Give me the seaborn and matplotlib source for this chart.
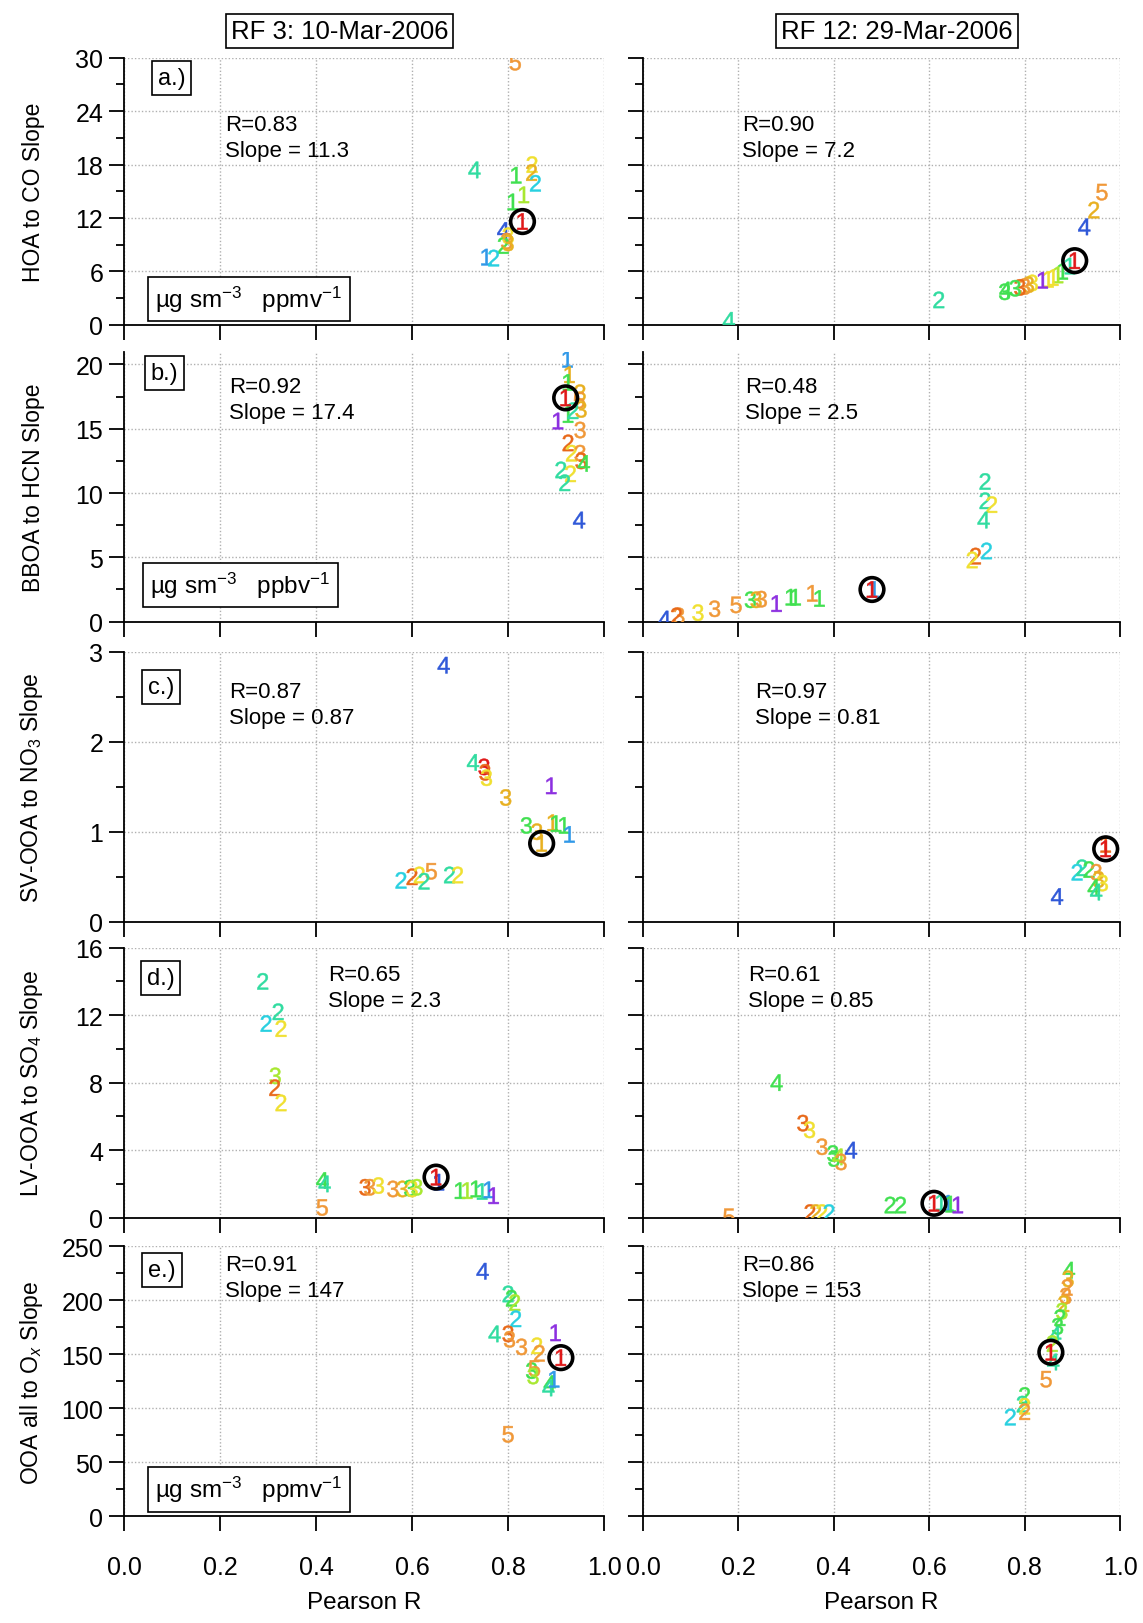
import numpy as np
import pandas as pd
import matplotlib
matplotlib.use('Agg')
import matplotlib.pyplot as plt
import seaborn as sns

sns.set_theme(style='ticks')
plt.rcParams['font.family'] = ['Liberation Sans', 'DejaVu Sans']
plt.rcParams['mathtext.fontset'] = 'custom'
plt.rcParams['mathtext.rm'] = 'Liberation Sans'
plt.rcParams['mathtext.it'] = 'Liberation Sans:italic'
plt.rcParams['mathtext.bf'] = 'Liberation Sans:bold'
for k in ['text.color', 'axes.labelcolor', 'xtick.color', 'ytick.color', 'axes.edgecolor']:
    plt.rcParams[k] = 'black'

# colour keys used for the factor digits
pal = {'pu': '#8c2fe0', 'bl': '#2f58d8', 'lb': '#2f98e8', 'cy': '#28d0e0',
       'tl': '#30dca0', 'gr': '#40e050', 'yg': '#a8e830', 'ye': '#f0e030',
       'go': '#e8b020', 'or': '#f09838', 'do': '#e86818', 're': '#e01818'}

# each point: (Pearson R, slope, number of factors, colour key)
hoa_rf3 = [(0.815, 29.5, '5', 'or'), (0.73, 17.4, '4', 'tl'), (0.817, 16.8, '1', 'gr'),
           (0.85, 18.0, '2', 'ye'), (0.849, 17.1, '2', 'go'), (0.857, 15.9, '2', 'cy'),
           (0.81, 13.8, '1', 'gr'), (0.833, 14.6, '1', 'yg'), (0.79, 10.6, '4', 'bl'),
           (0.80, 10.0, '3', 'ye'), (0.797, 9.4, '3', 'or'), (0.79, 8.9, '2', 'gr'),
           (0.80, 9.2, '3', 'go'), (0.755, 7.6, '1', 'lb'), (0.77, 7.5, '2', 'cy'),
           (0.83, 11.6, '1', 're')]
hoa_rf12 = [(0.962, 14.9, '5', 'or'), (0.945, 12.9, '2', 'go'), (0.925, 11.0, '4', 'bl'),
            (0.895, 6.6, '1', 'tl'), (0.88, 6.0, '1', 'gr'), (0.87, 5.6, '1', 'yg'),
            (0.86, 5.3, '1', 'ye'), (0.85, 5.1, '1', 'ye'), (0.838, 5.0, '1', 'pu'),
            (0.816, 4.7, '3', 'ye'), (0.808, 4.5, '3', 'go'), (0.80, 4.3, '3', 'or'),
            (0.79, 4.2, '3', 'do'), (0.78, 4.1, '3', 'gr'), (0.76, 3.9, '4', 'gr'),
            (0.758, 3.7, '3', 'gr'), (0.62, 2.8, '2', 'tl'), (0.18, 0.5, '4', 'tl'),
            (0.905, 7.2, '1', 're')]
bboa_rf3 = [(0.924, 20.4, '1', 'lb'), (0.928, 19.2, '1', 'go'), (0.925, 18.6, '1', 'gr'),
            (0.95, 17.8, '3', 'go'), (0.948, 17.2, '5', 'or'), (0.952, 16.5, '3', 'go'),
            (0.925, 16.1, '1', 'gr'), (0.935, 16.4, '2', 'tl'), (0.904, 15.6, '1', 'pu'),
            (0.95, 14.9, '3', 'or'), (0.925, 13.9, '2', 'do'), (0.932, 13.1, '2', 'ye'),
            (0.95, 13.1, '3', 'or'), (0.952, 12.5, '3', 'do'), (0.958, 12.3, '4', 'gr'),
            (0.91, 11.8, '2', 'tl'), (0.93, 11.5, '2', 'ye'), (0.918, 10.8, '2', 'tl'),
            (0.948, 7.9, '4', 'bl'), (0.92, 17.4, '1', 're')]
bboa_rf12 = [(0.717, 10.9, '2', 'tl'), (0.717, 9.4, '2', 'tl'), (0.731, 9.1, '2', 'ye'),
             (0.714, 7.9, '4', 'tl'), (0.72, 5.5, '2', 'cy'), (0.697, 5.1, '2', 'do'),
             (0.69, 4.8, '2', 'ye'), (0.485, 2.5, '1', 'lb'), (0.355, 2.2, '1', 'or'),
             (0.37, 1.8, '1', 'gr'), (0.31, 1.9, '1', 'gr'), (0.32, 1.9, '1', 'gr'),
             (0.28, 1.4, '1', 'pu'), (0.225, 1.7, '3', 'gr'), (0.237, 1.7, '3', 'go'),
             (0.248, 1.75, '3', 'or'), (0.195, 1.3, '5', 'or'), (0.15, 1.0, '3', 'or'),
             (0.115, 0.7, '3', 'ye'), (0.075, 0.45, '3', 'or'), (0.07, 0.45, '2', 'do'),
             (0.045, 0.2, '4', 'bl'), (0.48, 2.5, '1', 're')]
svooa_rf3 = [(0.666, 2.85, '4', 'bl'), (0.727, 1.77, '4', 'tl'), (0.75, 1.72, '3', 're'),
             (0.752, 1.66, '3', 'do'), (0.755, 1.6, '3', 'ye'), (0.795, 1.38, '3', 'go'),
             (0.89, 1.51, '1', 'pu'), (0.838, 1.07, '3', 'gr'), (0.86, 1.0, '3', 'go'),
             (0.893, 1.1, '1', 'go'), (0.90, 1.09, '1', 'gr'), (0.917, 1.07, '1', 'gr'),
             (0.928, 0.97, '1', 'lb'), (0.577, 0.46, '2', 'cy'), (0.60, 0.5, '2', 'do'),
             (0.615, 0.52, '2', 'ye'), (0.64, 0.56, '5', 'or'), (0.625, 0.45, '2', 'tl'),
             (0.678, 0.52, '2', 'tl'), (0.695, 0.52, '2', 'ye'), (0.87, 0.87, '1', 'go')]
svooa_rf12 = [(0.91, 0.55, '2', 'cy'), (0.92, 0.6, '2', 'tl'), (0.935, 0.58, '2', 'gr'),
              (0.95, 0.55, '3', 'or'), (0.955, 0.47, '3', 'go'), (0.963, 0.43, '3', 'ye'),
              (0.945, 0.38, '4', 'gr'), (0.95, 0.33, '4', 'tl'), (0.868, 0.28, '4', 'bl'),
              (0.97, 0.86, '1', 'do'), (0.97, 0.81, '1', 're')]
lvooa_rf3 = [(0.289, 14.0, '2', 'tl'), (0.296, 11.5, '2', 'cy'), (0.321, 12.2, '2', 'tl'),
             (0.327, 11.2, '2', 'ye'), (0.315, 8.4, '3', 'yg'), (0.314, 7.7, '2', 'do'),
             (0.327, 6.8, '2', 'ye'), (0.413, 2.2, '4', 'gr'), (0.418, 2.0, '4', 'tl'),
             (0.413, 0.6, '5', 'or'), (0.502, 1.8, '3', 'do'), (0.512, 1.8, '3', 'or'),
             (0.53, 1.9, '3', 'ye'), (0.56, 1.7, '3', 'or'), (0.58, 1.7, '3', 'go'),
             (0.595, 1.75, '3', 'gr'), (0.60, 1.7, '3', 'ye'), (0.61, 1.8, '3', 'yg'),
             (0.656, 2.1, '1', 'bl'), (0.70, 1.6, '1', 'gr'), (0.715, 1.6, '1', 'yg'),
             (0.733, 1.7, '1', 'gr'), (0.746, 1.55, '1', 'tl'), (0.76, 1.65, '1', 'lb'),
             (0.77, 1.3, '1', 'pu'), (0.65, 2.4, '1', 're')]
lvooa_rf12 = [(0.28, 8.0, '4', 'gr'), (0.335, 5.6, '3', 'do'), (0.349, 5.2, '3', 'ye'),
              (0.375, 4.2, '3', 'or'), (0.398, 3.8, '3', 'gr'), (0.40, 3.5, '3', 'gr'),
              (0.436, 4.0, '4', 'bl'), (0.41, 3.6, '4', 'yg'), (0.415, 3.3, '3', 'or'),
              (0.18, 0.05, '5', 'or'), (0.35, 0.3, '2', 'do'), (0.362, 0.3, '2', 'go'),
              (0.375, 0.3, '2', 'ye'), (0.39, 0.3, '2', 'cy'), (0.518, 0.75, '2', 'gr'),
              (0.54, 0.75, '2', 'gr'), (0.625, 0.9, '1', 'tl'), (0.64, 0.85, '1', 'lb'),
              (0.645, 0.8, '1', 'gr'), (0.66, 0.75, '1', 'pu'), (0.61, 0.85, '1', 're')]
ooa_rf3 = [(0.747, 227, '4', 'bl'), (0.80, 206, '2', 'tl'), (0.807, 202, '2', 'gr'),
           (0.814, 198, '2', 'yg'), (0.816, 183, '2', 'cy'), (0.772, 169, '4', 'tl'),
           (0.80, 169, '3', 'do'), (0.803, 164, '3', 'or'), (0.828, 157, '3', 'or'),
           (0.899, 170, '1', 'pu'), (0.86, 158, '2', 'ye'), (0.865, 151, '2', 'or'),
           (0.849, 135, '3', 'gr'), (0.855, 137, '5', 'or'), (0.852, 130, '3', 'yg'),
           (0.887, 123, '4', 'gr'), (0.884, 119, '4', 'tl'), (0.896, 127, '1', 'lb'),
           (0.80, 76, '5', 'or'), (0.91, 147, '1', 're')]
ooa_rf12 = [(0.893, 228, '4', 'gr'), (0.891, 220, '3', 'go'), (0.889, 212, '2', 'or'),
            (0.886, 204, '3', 'or'), (0.882, 197, '2', 'go'), (0.878, 190, '3', 'yg'),
            (0.874, 184, '2', 'gr'), (0.869, 176, '3', 'gr'), (0.864, 168, '4', 'tl'),
            (0.858, 160, '2', 'yg'), (0.86, 143, '4', 'tl'), (0.845, 127, '5', 'or'),
            (0.80, 112, '2', 'gr'), (0.795, 104, '2', 'tl'), (0.80, 102, '2', 'ye'),
            (0.80, 97, '2', 'or'), (0.77, 92, '2', 'cy'), (0.855, 152, '1', 're')]

# circled (chosen) solution per panel
best_rf3 = [(0.83, 11.6), (0.92, 17.4), (0.87, 0.87), (0.65, 2.4), (0.91, 147)]
best_rf12 = [(0.905, 7.2), (0.48, 2.5), (0.97, 0.81), (0.61, 0.85), (0.855, 152)]

stats_rf3 = ['R=0.83\nSlope = 11.3', 'R=0.92\nSlope = 17.4', 'R=0.87\nSlope = 0.87',
             'R=0.65\nSlope = 2.3', 'R=0.91\nSlope = 147']
stats_rf12 = ['R=0.90\nSlope = 7.2', 'R=0.48\nSlope = 2.5', 'R=0.97\nSlope = 0.81',
              'R=0.61\nSlope = 0.85', 'R=0.86\nSlope = 153']

titles = ['RF 3: 10-Mar-2006', 'RF 12: 29-Mar-2006']
ylabels = ['HOA to CO Slope', 'BBOA to HCN Slope', 'SV-OOA to NO$_3$ Slope',
           'LV-OOA to SO$_4$ Slope', 'OOA all to O$_x$ Slope']
ytop = [30, 21, 3, 16, 250]
ystep = [6, 5, 1, 4, 50]
ymax_tick = [30, 20, 3, 16, 250]
tags = ['a.)', 'b.)', 'c.)', 'd.)', 'e.)']
units = ['µg sm$^{-3}$   ppmv$^{-1}$', 'µg sm$^{-3}$   ppbv$^{-1}$', None, None,
         'µg sm$^{-3}$   ppmv$^{-1}$']
xticks = [0.0, 0.2, 0.4, 0.6, 0.8, 1.0]
xticklabels = ['0.0', '0.2', '0.4', '0.6', '0.8', '1.0']

# layout (figure fractions)
row_bottom = [0.7994, 0.6166, 0.4318, 0.2496, 0.0656]
row_h = [0.1644, 0.1663, 0.1663, 0.1663, 0.1663]
col_left = [0.1085, 0.5626]
col_w = [0.42, 0.4173]
stats_x = [[0.21, 0.218, 0.218, 0.425, 0.21], [0.208, 0.214, 0.234, 0.221, 0.208]]
stats_y = [0.79, 0.91, 0.89, 0.94, 0.972]
tag_pos = [(0.07, 0.965), (0.055, 0.962), (0.05, 0.91), (0.047, 0.928), (0.05, 0.954)]
unit_pos = [(0.065, 0.04), (0.055, 0.08), None, None, (0.065, 0.045)]

digit_marks = {d: r'$\mathrm{%s}$' % d for d in '12345'}

data = [[hoa_rf3, hoa_rf12], [bboa_rf3, bboa_rf12], [svooa_rf3, svooa_rf12],
        [lvooa_rf3, lvooa_rf12], [ooa_rf3, ooa_rf12]]
best = [best_rf3, best_rf12]
stats = [stats_rf3, stats_rf12]

fig = plt.figure(figsize=(11.43, 16.24), dpi=100)

for i in range(5):
    for j in range(2):
        ax = fig.add_axes([col_left[j], row_bottom[i], col_w[j], row_h[i]])
        df = pd.DataFrame(data[i][j], columns=['r', 'slope', 'n', 'c'])
        sns.scatterplot(data=df, x='r', y='slope', hue='c', style='n', palette=pal,
                        markers=digit_marks, s=140, linewidth=0.35, edgecolor='face',
                        legend=False, ax=ax, zorder=3)
        bx, by = best[j][i]
        sns.scatterplot(x=[bx], y=[by], ax=ax, marker='o', s=290, facecolor='none',
                        edgecolor='black', linewidth=2.6, zorder=4)

        ax.set_xlim(0, 1)
        ax.set_ylim(0, ytop[i])
        ax.set_xticks(xticks)
        ax.set_yticks(np.arange(0, ymax_tick[i] + 1e-9, ystep[i]))
        ax.set_yticks(np.arange(ystep[i] / 2, ymax_tick[i], ystep[i]), minor=True)
        ax.grid(True, which='major', color='#b0b0b0', linestyle=(0, (1, 1.5)), linewidth=1.0)
        ax.set_axisbelow(True)
        for s in ['top', 'right']:
            ax.spines[s].set_visible(False)
        for s in ['left', 'bottom']:
            ax.spines[s].set_linewidth(1.3)
            ax.spines[s].set_color('black')
        ax.tick_params(axis='both', which='major', direction='out', length=11, width=1.3,
                       labelsize=18)
        ax.tick_params(axis='y', which='minor', direction='out', length=6, width=1.3, left=True)
        ax.tick_params(axis='y', which='major', pad=4)
        ax.tick_params(axis='x', which='major', pad=17)

        if i == 4:
            ax.set_xticklabels(xticklabels)
            ax.set_xlabel('Pearson R', fontsize=17.5)
            ax.xaxis.set_label_coords(0.5, -0.275)
        else:
            ax.tick_params(axis='x', labelbottom=False)
            ax.set_xlabel('')

        if j == 0:
            ax.set_ylabel(ylabels[i], fontsize=16.5)
            ax.yaxis.set_label_coords(-0.165, 0.5)
            ax.text(tag_pos[i][0], tag_pos[i][1], tags[i], transform=ax.transAxes,
                    ha='left', va='top', fontsize=17, zorder=6,
                    bbox=dict(boxstyle='square,pad=0.25', fc='white', ec='black', lw=1.2))
            if units[i] is not None:
                ax.text(unit_pos[i][0], unit_pos[i][1], units[i], transform=ax.transAxes,
                        ha='left', va='bottom', fontsize=17.5, zorder=6,
                        bbox=dict(boxstyle='square,pad=0.3', fc='white', ec='black', lw=1.2))
        else:
            ax.tick_params(axis='y', labelleft=False)
            ax.set_ylabel('')

        ax.text(stats_x[j][i], stats_y[i], stats[j][i], transform=ax.transAxes,
                ha='left', va='top', fontsize=16, linespacing=1.3, zorder=6)

        if i == 0:
            tx = 0.449 if j == 0 else 0.533
            ax.text(tx, 1.10, titles[j], transform=ax.transAxes, ha='center', va='center',
                    fontsize=18.5, clip_on=False,
                    bbox=dict(boxstyle='square,pad=0.2', fc='white', ec='black', lw=1.2))

fig.savefig('out.png', dpi=100)
